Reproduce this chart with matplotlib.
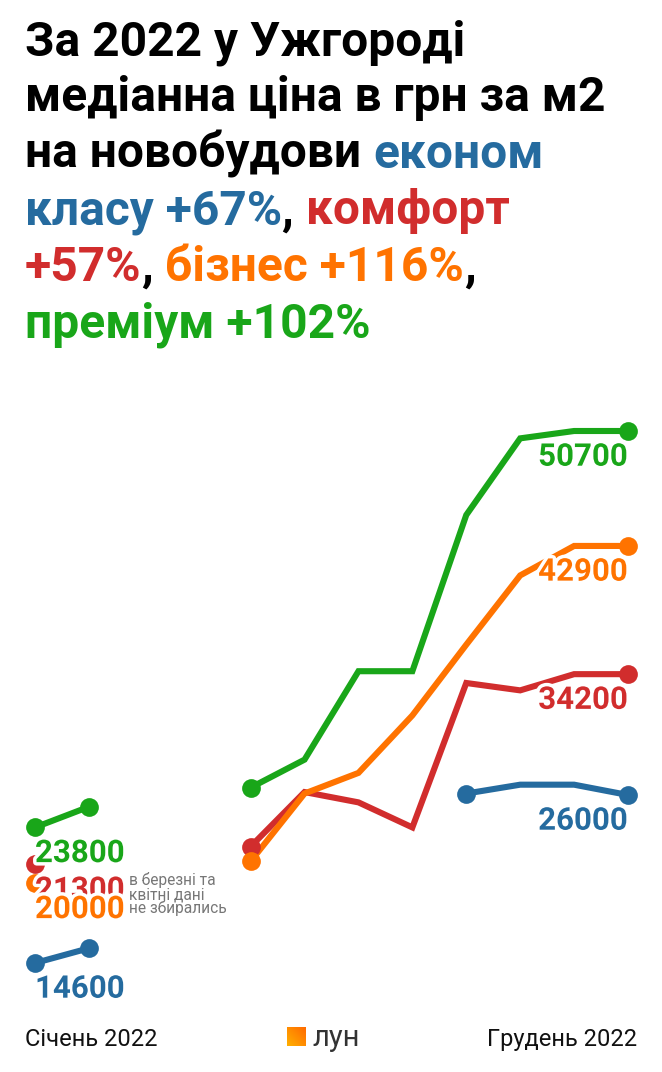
import numpy as np
import matplotlib
matplotlib.use("Agg")
import matplotlib.pyplot as plt
import matplotlib.patheffects as pe

nan = np.nan

# --- data (UAH per m2, monthly median, 2022; no data for Mar/Apr) ---
months = ["Січ", "Лют", "Бер", "Кві", "Тра", "Чер",
          "Лип", "Сер", "Вер", "Жов", "Лис", "Гру"]
premium = [23800, 25200, nan, nan, 26500, 28400, 34400, 34400, 45000, 50200, 50700, 50700]
business = [20000, nan, nan, nan, 21500, 26100, 27500, 31400, 36200, 40900, 42900, 42900]
comfort = [21300, nan, nan, nan, 22500, 26200, 25500, 23800, 33600, 33100, 34200, 34200]
economy = [14600, 15600, nan, nan, nan, nan, nan, nan, 26100, 26700, 26700, 26000]

BLUE = "#256b9f"
RED = "#d12d2d"
ORANGE = "#ff7300"
GREEN = "#19a619"
GREY = "#777777"

W, H = 662, 1072
fig = plt.figure(figsize=(W / 100, H / 100), dpi=100)
fig.patch.set_facecolor("white")
plt.rcParams["font.family"] = ["Roboto", "DejaVu Sans"]


def fx(px):
    return px / W


def fy(py):
    return 1 - py / H


# plot area: Jan..Dec spans 35..628 px, 14600..50700 spans 963..431 px
ax = fig.add_axes([fx(35), fy(963), fx(628) - fx(35), fy(431) - fy(963)])
ax.set_xlim(0, 11)
ax.set_ylim(14600, 50700)
ax.axis("off")

series = [
    ("economy", economy, BLUE),
    ("comfort", comfort, RED),
    ("business", business, ORANGE),
    ("premium", premium, GREEN),
]

x = np.arange(len(months))
for name, vals, col in series:
    v = np.array(vals, dtype=float)
    ax.plot(x, v, color=col, lw=4.4, solid_joinstyle="miter",
            solid_capstyle="butt", clip_on=False, zorder=2)
    ok = ~np.isnan(v)
    ends = []
    for i in range(len(v)):
        if not ok[i]:
            continue
        prev_gap = i == 0 or not ok[i - 1]
        next_gap = i == len(v) - 1 or not ok[i + 1]
        if prev_gap or next_gap:
            ends.append(i)
    ax.plot(x[ends], v[ends], "o", color=col, ms=13.5, mew=0,
            clip_on=False, zorder=3)

halo = [pe.withStroke(linewidth=5, foreground="white")]
label_kw = dict(textcoords="offset points", fontsize=22.5, fontweight="bold",
                va="center", zorder=5, path_effects=halo,
                annotation_clip=False)

# Jan labels (draw order matters for the overlap)
for vals, col in [(comfort, RED), (premium, GREEN),
                  (business, ORANGE), (economy, BLUE)]:
    ax.annotate(f"{int(vals[0])}", (0, vals[0]), xytext=(0, -18.5),
                ha="left", color=col, **label_kw)

# Dec labels
for name, vals, col in series:
    ax.annotate(f"{int(vals[-1])}", (11, vals[-1]), xytext=(0, -18.5),
                ha="right", color=col, **label_kw)

# note about the missing months
note = ["в березні та", "квітні дані", "не збирались"]
for k, line in enumerate(note):
    fig.text(fx(129), fy(885 + 14 * k), line, fontsize=11.2, color=GREY,
             va="baseline", ha="left")

# --- multi-coloured title ---
title_lines = [
    [("За 2022 у Ужгороді", "black")],
    [("медіанна ціна в грн за м2", "black")],
    [("на новобудови ", "black"), ("економ", BLUE)],
    [("класу +67%", BLUE), (", ", "black"), ("комфорт", RED)],
    [("+57%", RED), (", ", "black"), ("бізнес +116%", ORANGE), (",", "black")],
    [("преміум +102%", GREEN)],
]
title_kw = dict(fontsize=34.5, fontweight="bold", va="baseline", ha="left")

fig.canvas.draw()
r = fig.canvas.get_renderer()


def text_w(s):
    t = fig.text(0, 0, s + "|", **title_kw)
    w = t.get_window_extent(r).width
    t.remove()
    t = fig.text(0, 0, "|", **title_kw)
    w0 = t.get_window_extent(r).width
    t.remove()
    return w - w0


for k, pieces in enumerate(title_lines):
    base = 55 + 56.4 * k
    prefix = ""
    for txt, col in pieces:
        fig.text(fx(25) + text_w(prefix) / W if prefix else fx(25), fy(base),
                 txt, color=col, **title_kw)
        prefix += txt

# --- footer ---
fig.text(fx(25), fy(1046), "Січень 2022", fontsize=17, color="#111111",
         va="baseline", ha="left")
fig.text(fx(637), fy(1046), "Грудень 2022", fontsize=17, color="#111111",
         va="baseline", ha="right")

logo = fig.add_axes([fx(287), fy(1046), fx(19), 19 / H])
g = np.linspace(0, 1, 50)
grad = (g[None, :] + g[::-1, None]) / 2
cmap = matplotlib.colors.LinearSegmentedColormap.from_list("lun", ["#ffb000", "#ff6a00"])
logo.imshow(grad, cmap=cmap, aspect="auto", origin="upper")
logo.axis("off")
fig.text(fx(312), fy(1046), "лун", fontsize=21, color="#333333",
         va="baseline", ha="left")

fig.savefig("out.png", dpi=100, facecolor="white")
